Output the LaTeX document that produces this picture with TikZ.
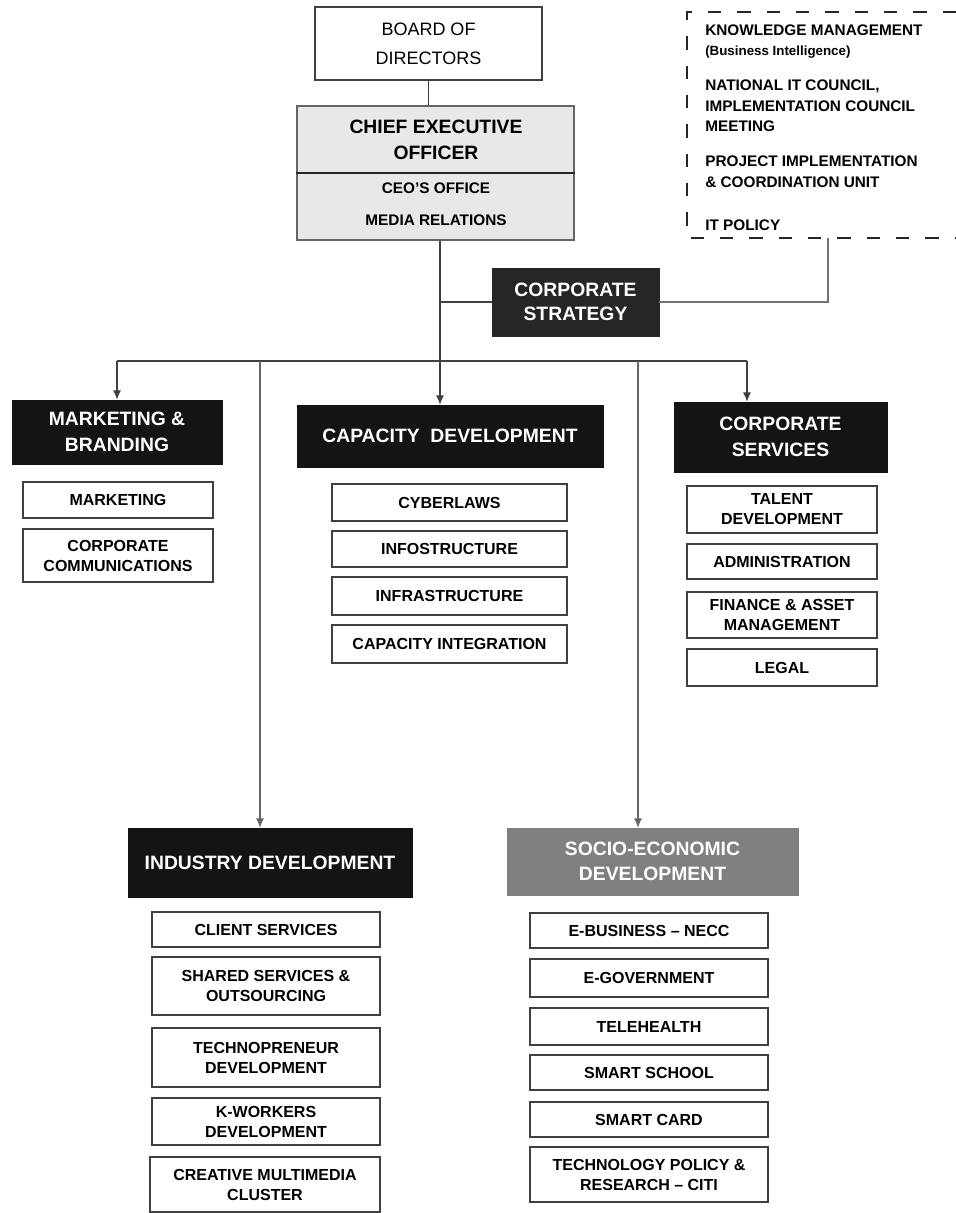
\documentclass[tikz,border=0pt]{standalone}
\usepackage{fontspec}
\setmainfont{Liberation Sans}
\usetikzlibrary{arrows.meta}
\newcommand\mkbox[7]{\node[#6, minimum width={(#4-#2)*0.75pt}, minimum height={(#5-#3)*0.75pt}] (#1) at ({(#2+#4)/2},{(#3+#5)/2}) {#7};}
\tikzset{
  ln/.style={draw=black!75, line width=0.8pt},
  arr/.style={ln, -{Latex[length=7pt,width=6pt]}},
  subbox/.style={draw=black!75, line width=0.8pt, fill=white, inner sep=1pt, align=center,
    font=\bfseries\fontsize{12}{15}\selectfont},
  hdrbox/.style={fill=black!92, draw=black!92, text=white, inner sep=1pt, align=center,
    font=\bfseries\fontsize{14.5}{19}\selectfont},
  dtext/.style={anchor=west, align=left, inner sep=0pt, font=\bfseries\fontsize{11.5}{15.5}\selectfont},
}
\begin{document}
\begin{tikzpicture}[x=0.75pt,y=-0.75pt]
\useasboundingbox (0,0) rectangle (956,1213);

% top
\mkbox{brd}{315}{7}{542}{80}{draw=black!75, line width=0.9pt, align=center, inner sep=1pt, font=\fontsize{13.5}{22}\selectfont}{BOARD OF\\DIRECTORS}
\mkbox{ceo}{297}{106}{574}{240}{draw=black!60, line width=0.8pt, fill=gray!18}{}
\draw[draw=black!85, line width=1pt] (ceo.west) -- (ceo.east);
\node[align=center, inner sep=0pt, font=\bfseries\fontsize{14.5}{19}\selectfont] (ceoA) at (436,140) {CHIEF EXECUTIVE\\OFFICER};
\node[align=center, inner sep=0pt, font=\bfseries\fontsize{11.5}{24}\selectfont] (ceoB) at (436,204) {CEO'S OFFICE\\MEDIA RELATIONS};

% dashed box
\draw[black!85, line width=2pt, dash pattern=on 10pt off 12pt] (956,12) -- (687,12) -- (687,238) -- (956,238);
\node[dtext] (km1) at (705,30) {KNOWLEDGE MANAGEMENT};
\node[dtext, font=\bfseries\fontsize{10}{12}\selectfont] (km2) at (705,52) {(Business Intelligence)};
\node[dtext] (nitc) at (705,106) {NATIONAL IT COUNCIL,\\IMPLEMENTATION COUNCIL\\MEETING};
\node[dtext] (piu) at (705,172) {PROJECT IMPLEMENTATION\\\& COORDINATION UNIT};
\node[dtext] (itp) at (705,225) {IT POLICY};
\coordinate (dbot) at (828,238);

% strategy
\mkbox{strat}{492}{268}{659}{336}{hdrbox, fill=black!85, draw=black!85, font=\bfseries\fontsize{14.5}{17.5}\selectfont}{CORPORATE\\STRATEGY}

% second level
\mkbox{mkt}{12}{400}{222}{464}{hdrbox}{MARKETING \&\\BRANDING}
\mkbox{cap}{297}{405}{603}{467}{hdrbox}{CAPACITY\ \ DEVELOPMENT}
\mkbox{csv}{674}{402}{887}{472}{hdrbox}{CORPORATE\\SERVICES}

\mkbox{mk1}{23}{482}{213}{518}{subbox}{MARKETING}
\mkbox{mk2}{23}{529}{213}{582}{subbox}{CORPORATE\\COMMUNICATIONS}

\mkbox{cd1}{332}{484}{567}{521}{subbox}{CYBERLAWS}
\mkbox{cd2}{332}{531}{567}{567}{subbox}{INFOSTRUCTURE}
\mkbox{cd3}{332}{577}{567}{615}{subbox}{INFRASTRUCTURE}
\mkbox{cd4}{332}{625}{567}{663}{subbox}{CAPACITY INTEGRATION}

\mkbox{cs1}{687}{486}{877}{533}{subbox}{TALENT\\DEVELOPMENT}
\mkbox{cs2}{687}{544}{877}{579}{subbox}{ADMINISTRATION}
\mkbox{cs3}{687}{592}{877}{638}{subbox}{FINANCE \& ASSET\\MANAGEMENT}
\mkbox{cs4}{687}{649}{877}{686}{subbox}{LEGAL}

% third level
\mkbox{ind}{128}{828}{412}{897}{hdrbox}{INDUSTRY DEVELOPMENT}
\mkbox{soc}{507}{828}{798}{895}{hdrbox, fill=black!50, draw=black!50}{SOCIO-ECONOMIC\\DEVELOPMENT}

\mkbox{id1}{152}{912}{380}{947}{subbox}{CLIENT SERVICES}
\mkbox{id2}{152}{957}{380}{1015}{subbox}{SHARED SERVICES \&\\OUTSOURCING}
\mkbox{id3}{152}{1028}{380}{1087}{subbox}{TECHNOPRENEUR\\DEVELOPMENT}
\mkbox{id4}{152}{1098}{380}{1145}{subbox}{K-WORKERS\\DEVELOPMENT}
\mkbox{id5}{150}{1157}{380}{1212}{subbox}{CREATIVE MULTIMEDIA\\CLUSTER}

\mkbox{se1}{530}{913}{768}{948}{subbox}{E-BUSINESS -- NECC}
\mkbox{se2}{530}{959}{768}{997}{subbox}{E-GOVERNMENT}
\mkbox{se3}{530}{1008}{768}{1045}{subbox}{TELEHEALTH}
\mkbox{se4}{530}{1055}{768}{1090}{subbox}{SMART SCHOOL}
\mkbox{se5}{530}{1102}{768}{1137}{subbox}{SMART CARD}
\mkbox{se6}{530}{1147}{768}{1202}{subbox}{TECHNOLOGY POLICY \&\\RESEARCH -- CITI}

% connectors
\draw[ln] (brd.south) -- (brd.south |- ceo.north);
\coordinate (trunk) at (440,361);
\coordinate (busL) at (117,361);
\coordinate (busR) at (747,361);
\coordinate (busI) at (260,361);
\coordinate (busS) at (638,361);
\draw[ln] (ceo.south -| trunk) -- (trunk);
\draw[ln] (trunk |- strat.west) -- (strat.west);
\draw[ln, draw=black!55] (dbot) |- (strat.east);
\draw[ln] (busL) -- (busR);
\draw[arr] (trunk) -- (trunk |- cap.north);
\draw[arr] (busL) -- (mkt.north);
\draw[arr] (busR) -- (busR |- csv.north);
\draw[arr, draw=black!60] (busI) -- (busI |- ind.north);
\draw[arr, draw=black!60] (busS) -- (busS |- soc.north);
\end{tikzpicture}
\end{document}
